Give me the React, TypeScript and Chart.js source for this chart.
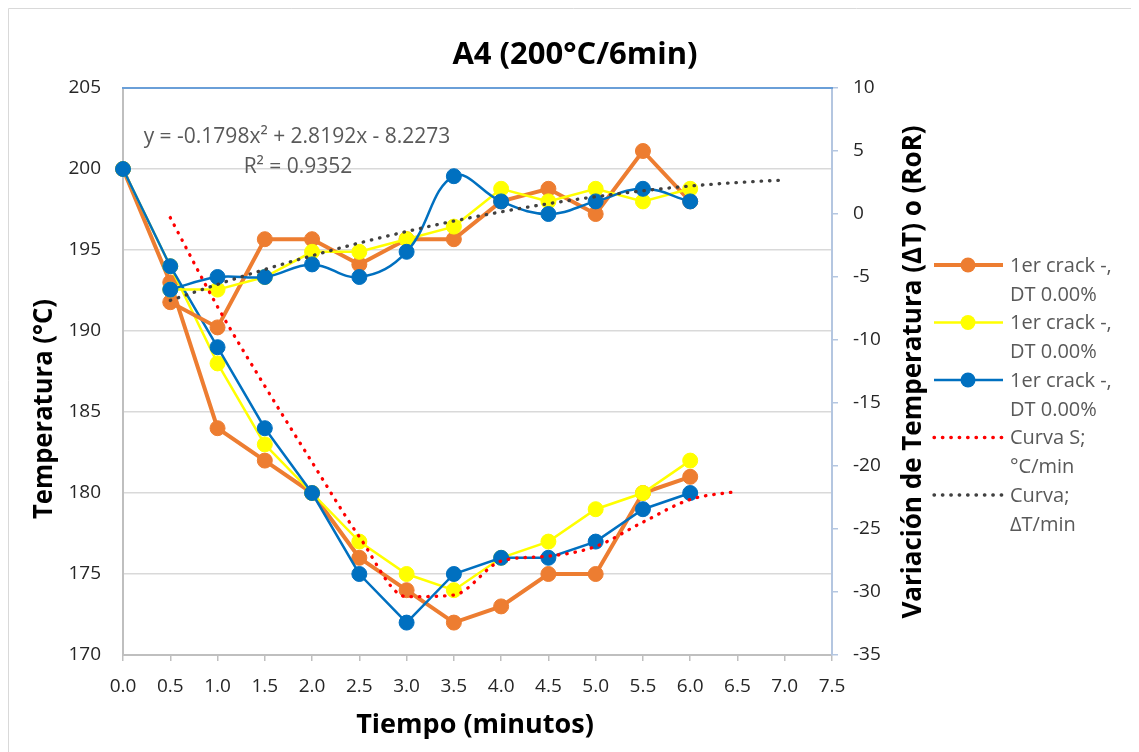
import React, { useEffect, useRef } from "react";
import { Chart, registerables } from "chart.js";

Chart.register(...registerables);

// ---- data ----
const times = [0, 0.5, 1.0, 1.5, 2.0, 2.5, 3.0, 3.5, 4.0, 4.5, 5.0, 5.5, 6.0];
const tempOrange = [200, 193, 184, 182, 180, 176, 174, 172, 173, 175, 175, 180, 181];
const tempYellow = [200, 194, 188, 183, 180, 177, 175, 174, 176, 177, 179, 180, 182];
const tempBlue = [200, 194, 189, 184, 180, 175, 172, 175, 176, 176, 177, 179, 180];

const rorTimes = [0.5, 1.0, 1.5, 2.0, 2.5, 3.0, 3.5, 4.0, 4.5, 5.0, 5.5, 6.0];
const rorOrange = [-7, -9, -2, -2, -4, -2, -2, 1, 2, 0, 5, 1];
const rorYellow = [-6, -6, -5, -3, -3, -2, -1, 2, 1, 2, 1, 2];
const rorBlue = [-6, -5, -5, -4, -5, -3, 3, 1, 0, 1, 2, 1];

const curveSTimes = [0.5, 1.0, 1.5, 2.0, 2.5, 3.0, 3.5, 4.0, 4.5, 5.0, 5.5, 6.0, 6.5];
const curveS = [197.0, 191.5, 186.6, 181.9, 177.3, 173.6, 173.7, 175.8, 176.1, 176.7, 178.2, 179.6, 180.1];

const trendTimes = [0.5, 1.0, 1.5, 2.0, 2.5, 3.0, 3.5, 4.0, 4.5, 5.0, 5.5, 6.0, 6.5, 7.0];
const trendRoR = [-6.86, -5.59, -4.40, -3.31, -2.30, -1.39, -0.56, 0.17, 0.82, 1.37, 1.84, 2.22, 2.50, 2.70];

const xTickValues = [0, 0.5, 1.0, 1.5, 2.0, 2.5, 3.0, 3.5, 4.0, 4.5, 5.0, 5.5, 6.0, 6.5, 7.0, 7.5];

const chartTitle = "A4 (200°C/6min)";
const yTitle = "Temperatura (°C)";
const y1Title = "Variación de Temperatura (ΔT) o (RoR)";
const xTitle = "Tiempo (minutos)";
const eqText = "y = -0.1798x² + 2.8192x - 8.2273";
const r2Text = "R² = 0.9352";
const legendLabels = [
  ["1er crack -,", "DT 0.00%"],
  ["1er crack -,", "DT 0.00%"],
  ["1er crack -,", "DT 0.00%"],
  ["Curva S;", "°C/min"],
  ["Curva;", "ΔT/min"],
];

const ORANGE = "#ED7D31";
const YELLOW = "#FFFF00";
const BLUE = "#0070C0";
const RED = "#FF0000";
const DARK = "#404040";
const FONT = "'Open Sans', 'DejaVu Sans', sans-serif";

const pts = (xs: number[], ys: number[]) => xs.map((x, i) => ({ x, y: ys[i] }));

const legendItems = [
  { color: ORANGE, width: 4, marker: true, dotted: false },
  { color: YELLOW, width: 2.5, marker: true, dotted: false },
  { color: BLUE, width: 2.5, marker: true, dotted: false },
  { color: RED, width: 3.3, marker: false, dotted: true },
  { color: DARK, width: 3.3, marker: false, dotted: true },
];

const decorPlugin = {
  id: "decor",
  beforeDatasetsDraw(chart: any) {
    const { ctx, chartArea } = chart;
    ctx.save();
    ctx.strokeStyle = "#6a9fd8";
    ctx.lineWidth = 2;
    ctx.beginPath();
    ctx.moveTo(chartArea.left - 1, chartArea.top);
    ctx.lineTo(chartArea.right + 1, chartArea.top);
    ctx.stroke();
    ctx.restore();
  },
  afterDraw(chart: any) {
    const ctx = chart.ctx as CanvasRenderingContext2D;
    ctx.save();
    // outer border (top / left)
    ctx.strokeStyle = "#d9d9d9";
    ctx.lineWidth = 1;
    ctx.beginPath();
    ctx.moveTo(0.5, chart.height);
    ctx.lineTo(0.5, 0.5);
    ctx.lineTo(chart.width, 0.5);
    ctx.stroke();

    ctx.textAlign = "center";
    ctx.textBaseline = "middle";
    ctx.fillStyle = "#000000";
    // title
    ctx.font = `bold 31px ${FONT}`;
    ctx.fillText(chartTitle, 567, 47, 256);
    // x title
    ctx.font = `bold 27px ${FONT}`;
    ctx.fillText(xTitle, 467, 717, 238);
    // left y title
    ctx.save();
    ctx.translate(37, 401);
    ctx.rotate(-Math.PI / 2);
    ctx.font = `bold 26px ${FONT}`;
    ctx.fillText(yTitle, 0, 0, 220);
    ctx.restore();
    // right y title
    ctx.save();
    ctx.translate(906, 364);
    ctx.rotate(-Math.PI / 2);
    ctx.font = `bold 26px ${FONT}`;
    ctx.fillText(y1Title, 0, 0, 503);
    ctx.restore();

    // trendline equation
    ctx.fillStyle = "#595959";
    ctx.font = `21px ${FONT}`;
    ctx.fillText(eqText, 289, 129, 311);
    ctx.fillText(r2Text, 290, 159, 109);

    // legend
    const baseY = 257;
    const step = 57.5;
    legendItems.forEach((it, i) => {
      const y = baseY + i * step;
      ctx.save();
      ctx.strokeStyle = it.color;
      ctx.lineWidth = it.width;
      if (it.dotted) {
        ctx.setLineDash([0.5, 7.9]);
        ctx.lineCap = "round";
      }
      ctx.beginPath();
      ctx.moveTo(926, y);
      ctx.lineTo(995, y);
      ctx.stroke();
      ctx.restore();
      if (it.marker) {
        ctx.beginPath();
        ctx.fillStyle = it.color;
        ctx.arc(960, y, 7.5, 0, Math.PI * 2);
        ctx.fill();
      }
      ctx.fillStyle = "#595959";
      ctx.font = `20px ${FONT}`;
      ctx.textAlign = "left";
      ctx.fillText(legendLabels[i][0], 1002, y + 1);
      ctx.fillText(legendLabels[i][1], 1002, y + 30);
    });
    ctx.restore();
  },
};

export default function App() {
  const canvasRef = useRef<HTMLCanvasElement | null>(null);

  useEffect(() => {
    if (!canvasRef.current) return;
    Chart.defaults.font.family = FONT;
    const marker = (c: string) => ({
      pointRadius: 7.5,
      pointHoverRadius: 7.5,
      pointBackgroundColor: c,
      pointBorderColor: c,
      pointBorderWidth: 1,
    });
    const chart = new Chart(canvasRef.current, {
      type: "line",
      data: {
        datasets: [
          {
            label: "Curva S; °C/min",
            data: pts(curveSTimes, curveS),
            yAxisID: "y",
            borderColor: RED,
            borderWidth: 3.3,
            borderDash: [0.5, 7.9],
            borderCapStyle: "round",
            pointRadius: 0,
            cubicInterpolationMode: "monotone",
            order: 0,
          },
          {
            label: "Curva; ΔT/min",
            data: pts(trendTimes, trendRoR),
            yAxisID: "y1",
            borderColor: DARK,
            borderWidth: 3.3,
            borderDash: [0.5, 7.9],
            borderCapStyle: "round",
            pointRadius: 0,
            cubicInterpolationMode: "monotone",
            order: 1,
          },
          {
            label: "RoR azul",
            data: pts(rorTimes, rorBlue),
            yAxisID: "y1",
            borderColor: BLUE,
            borderWidth: 2.5,
            tension: 0.4,
            ...marker(BLUE),
            order: 2,
          },
          {
            label: "RoR amarillo",
            data: pts(rorTimes, rorYellow),
            yAxisID: "y1",
            borderColor: YELLOW,
            borderWidth: 2.5,
            tension: 0,
            ...marker(YELLOW),
            order: 3,
          },
          {
            label: "RoR naranja",
            data: pts(rorTimes, rorOrange),
            yAxisID: "y1",
            borderColor: ORANGE,
            borderWidth: 4,
            tension: 0,
            ...marker(ORANGE),
            order: 4,
          },
          {
            label: "1er crack -, DT 0.00% (azul)",
            data: pts(times, tempBlue),
            yAxisID: "y",
            borderColor: BLUE,
            borderWidth: 2.5,
            tension: 0,
            clip: false,
            ...marker(BLUE),
            order: 5,
          },
          {
            label: "1er crack -, DT 0.00% (amarillo)",
            data: pts(times, tempYellow),
            yAxisID: "y",
            borderColor: YELLOW,
            borderWidth: 2.5,
            tension: 0,
            clip: false,
            ...marker(YELLOW),
            order: 6,
          },
          {
            label: "1er crack -, DT 0.00% (naranja)",
            data: pts(times, tempOrange),
            yAxisID: "y",
            borderColor: ORANGE,
            borderWidth: 4,
            tension: 0,
            clip: false,
            ...marker(ORANGE),
            order: 7,
          },
        ] as any,
      },
      options: {
        animation: false,
        responsive: false,
        devicePixelRatio: 1,
        events: [],
        layout: { padding: { top: 80, right: 207, left: 0, bottom: 0 } },
        plugins: {
          legend: { display: false },
          tooltip: { enabled: false },
          title: { display: false },
        },
        scales: {
          x: {
            type: "linear",
            min: 0,
            max: 7.5,
            afterFit: (s: any) => {
              s.height = 97;
            },
            afterBuildTicks: (s: any) => {
              s.ticks = xTickValues.map((v) => ({ value: v }));
            },
            ticks: {
              autoSkip: false,
              maxRotation: 0,
              padding: 14,
              color: "#262626",
              font: { size: 19, family: FONT },
              callback: (v: any) => Number(v).toFixed(1),
            },
            grid: {
              drawOnChartArea: false,
              tickLength: 6,
              color: "#bfbfbf",
              lineWidth: 1.5,
            },
            border: { color: "#bfbfbf", width: 2 },
          },
          y: {
            type: "linear",
            position: "left",
            min: 170,
            max: 205,
            afterFit: (s: any) => {
              s.width = 115;
            },
            ticks: {
              stepSize: 5,
              padding: 22,
              color: "#262626",
              font: { size: 19, family: FONT },
            },
            grid: { color: "#d9d9d9", lineWidth: 1.5, drawTicks: false },
            border: { color: "#bfbfbf", width: 2 },
          },
          y1: {
            type: "linear",
            position: "right",
            min: -35,
            max: 10,
            afterFit: (s: any) => {
              s.width = 100;
            },
            ticks: {
              stepSize: 5,
              padding: 15,
              color: "#262626",
              font: { size: 19, family: FONT },
            },
            grid: {
              drawOnChartArea: false,
              tickLength: 6,
              color: "#b4c6e0",
              lineWidth: 1.5,
            },
            border: { color: "#b4c6e0", width: 2 },
          },
        },
      } as any,
      plugins: [decorPlugin],
    });
    return () => chart.destroy();
  }, []);

  return (
    <div style={{ width: 1131, height: 744 }}>
      <canvas ref={canvasRef} width={1131} height={744} style={{ display: "block" }} />
    </div>
  );
}
